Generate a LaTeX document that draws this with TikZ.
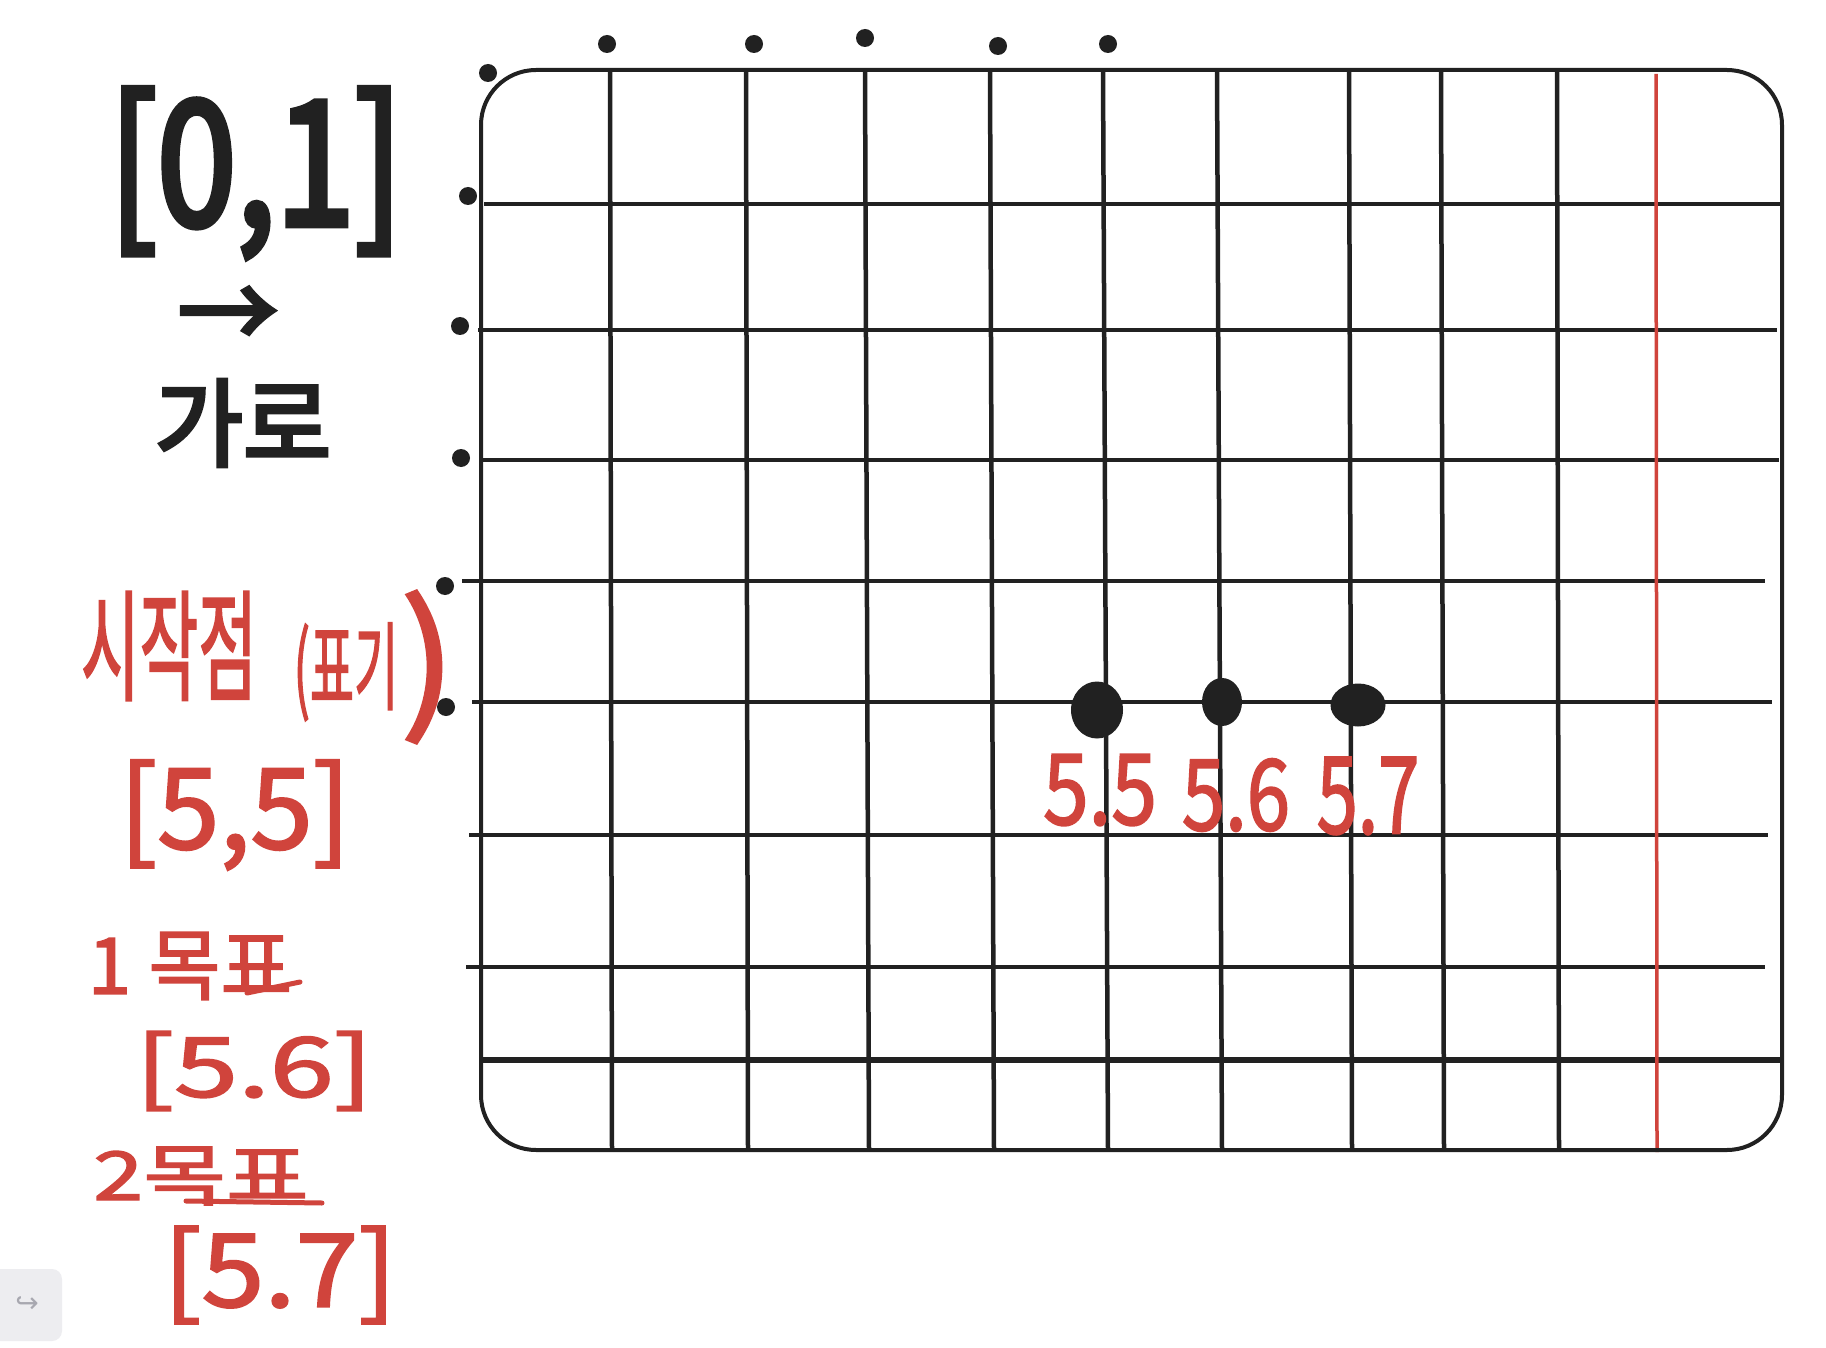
\documentclass[tikz,border=0pt]{standalone}
\usepackage{fontspec}
\usepackage{graphicx}
\usetikzlibrary{shapes.geometric}
\newfontfamily\kr{Noto Sans CJK KR}[FakeBold=2]
\newfontfamily\krb{Noto Sans CJK KR}[FakeBold=4]
\newfontfamily\dejavu{DejaVu Sans}
\newcommand\fsz[1]{\fontsize{#1}{#1}\selectfont}
\definecolor{ink}{HTML}{212121}
\definecolor{redink}{HTML}{D0443C}
\definecolor{btn}{HTML}{EDEDF0}
\definecolor{btnarrow}{HTML}{A8A8B0}
\begin{document}
\begin{tikzpicture}[x=1pt,y=-1pt,
  gridline/.style={draw=ink,line width=4.5pt},
  frameline/.style={draw=ink,line width=4pt,rounded corners=55pt},
  redline/.style={draw=redink,line width=5pt,line cap=round},
  smalldot/.style={circle,fill=ink,inner sep=0pt,minimum size=18pt},
  bigdot/.style={ellipse,fill=ink,inner sep=0pt},
  blacktext/.style={text=ink,inner sep=0pt,font=\krb},
  redtext/.style={text=redink,inner sep=0pt,font=\kr},
]
\useasboundingbox (0,0) rectangle (1826,1348);
\fill[white] (0,0) rectangle (1826,1348);

% UI button
\fill[btn,rounded corners=10pt] (-20,1269) rectangle (62,1341);
\node[text=btnarrow,inner sep=0pt,font=\dejavu\fsz{28}] (btnarrow) at (27,1305) {↪};

% grid lines
\foreach \a/\b in {610/612,746/748,865/869,990/994,1103/1108,1217/1222,1349/1352,1441/1444,1557/1559}
  \draw[gridline] (\a,70) -- (\b,1150);
\foreach \y/\xa/\xb in {204/484/1782,330/478/1777,460/483/1779,581/462/1765,702/472/1772,835/469/1768,967/466/1765}
  \draw[gridline] (\xa,\y) -- (\xb,\y);
\draw[gridline,line width=6.5pt] (481,1060) -- (1782,1060);
\draw[draw=redink,line width=3.5pt] (1656,74) -- (1657,1152);
\draw[frameline] (481,70) rectangle (1782,1150);

% small dots
\foreach \x/\y [count=\i] in {488/73,607/44,754/44,865/38,998/46,1108/44}
  \node[smalldot] (top\i) at (\x,\y) {};
\foreach \x/\y [count=\i] in {468/196,460/326,461/458,445/586,446/707}
  \node[smalldot] (left\i) at (\x,\y) {};

% big dots
\node[bigdot,minimum width=52pt,minimum height=57pt] (p55) at (1097,710) {};
\node[bigdot,minimum width=40pt,minimum height=48pt] (p56) at (1222,702) {};
\node[bigdot,minimum width=55pt,minimum height=43pt] (p57) at (1358,705) {};

% grid labels
\node[redtext,font=\kr\fsz{82}] (l55) at (1100,790) {\scalebox{1}[1.2]{5.5}};
\node[redtext,font=\kr\fsz{82}] (l56) at (1236,795) {\scalebox{0.95}[1.2]{5.6}};
\node[redtext,font=\kr\fsz{82}] (l57) at (1368,796) {\scalebox{0.9}[1.3]{5.7}};

% left black text
\node[blacktext,font=\krb\fsz{150}] (range) at (256,173) {\scalebox{0.95}[1.15]{[0,1]}};
\node[blacktext,font=\krb\fsz{100}] (arrow) at (228,318) {→};
\node[blacktext,font=\krb\fsz{96}] (garo) at (243,423) {가로};

% left red text
\node[redtext,font=\kr\fsz{75}] (start) at (169,646) {\scalebox{0.85}[1.6]{시작점}};
\node[redtext,font=\kr\fsz{60}] (mark) at (346,672) {\scalebox{0.8}[1.6]{(표기}};
\node[redtext,font=\kr\fsz{150}] (paren) at (428,667) {\scalebox{1.1}[1]{)}};
\node[redtext,font=\kr\fsz{112}] (c55) at (235,815) {[5,5]};
\node[redtext,font=\kr\fsz{78}] (goal1) at (190,966) {1 목표};
\draw[redline] (247,993) -- (300,982);
\node[redtext,font=\kr\fsz{115}] (c56) at (254,1071) {\scalebox{1}[0.72]{[5.6]}};
\node[redtext,font=\kr\fsz{90}] (goal2) at (201,1176) {\scalebox{1}[0.75]{2목표}};
\draw[redline] (186,1201) -- (322,1203);
\node[redtext,font=\kr\fsz{113}] (c57) at (280,1275) {\scalebox{1}[0.9]{[5.7]}};
\end{tikzpicture}
\end{document}
